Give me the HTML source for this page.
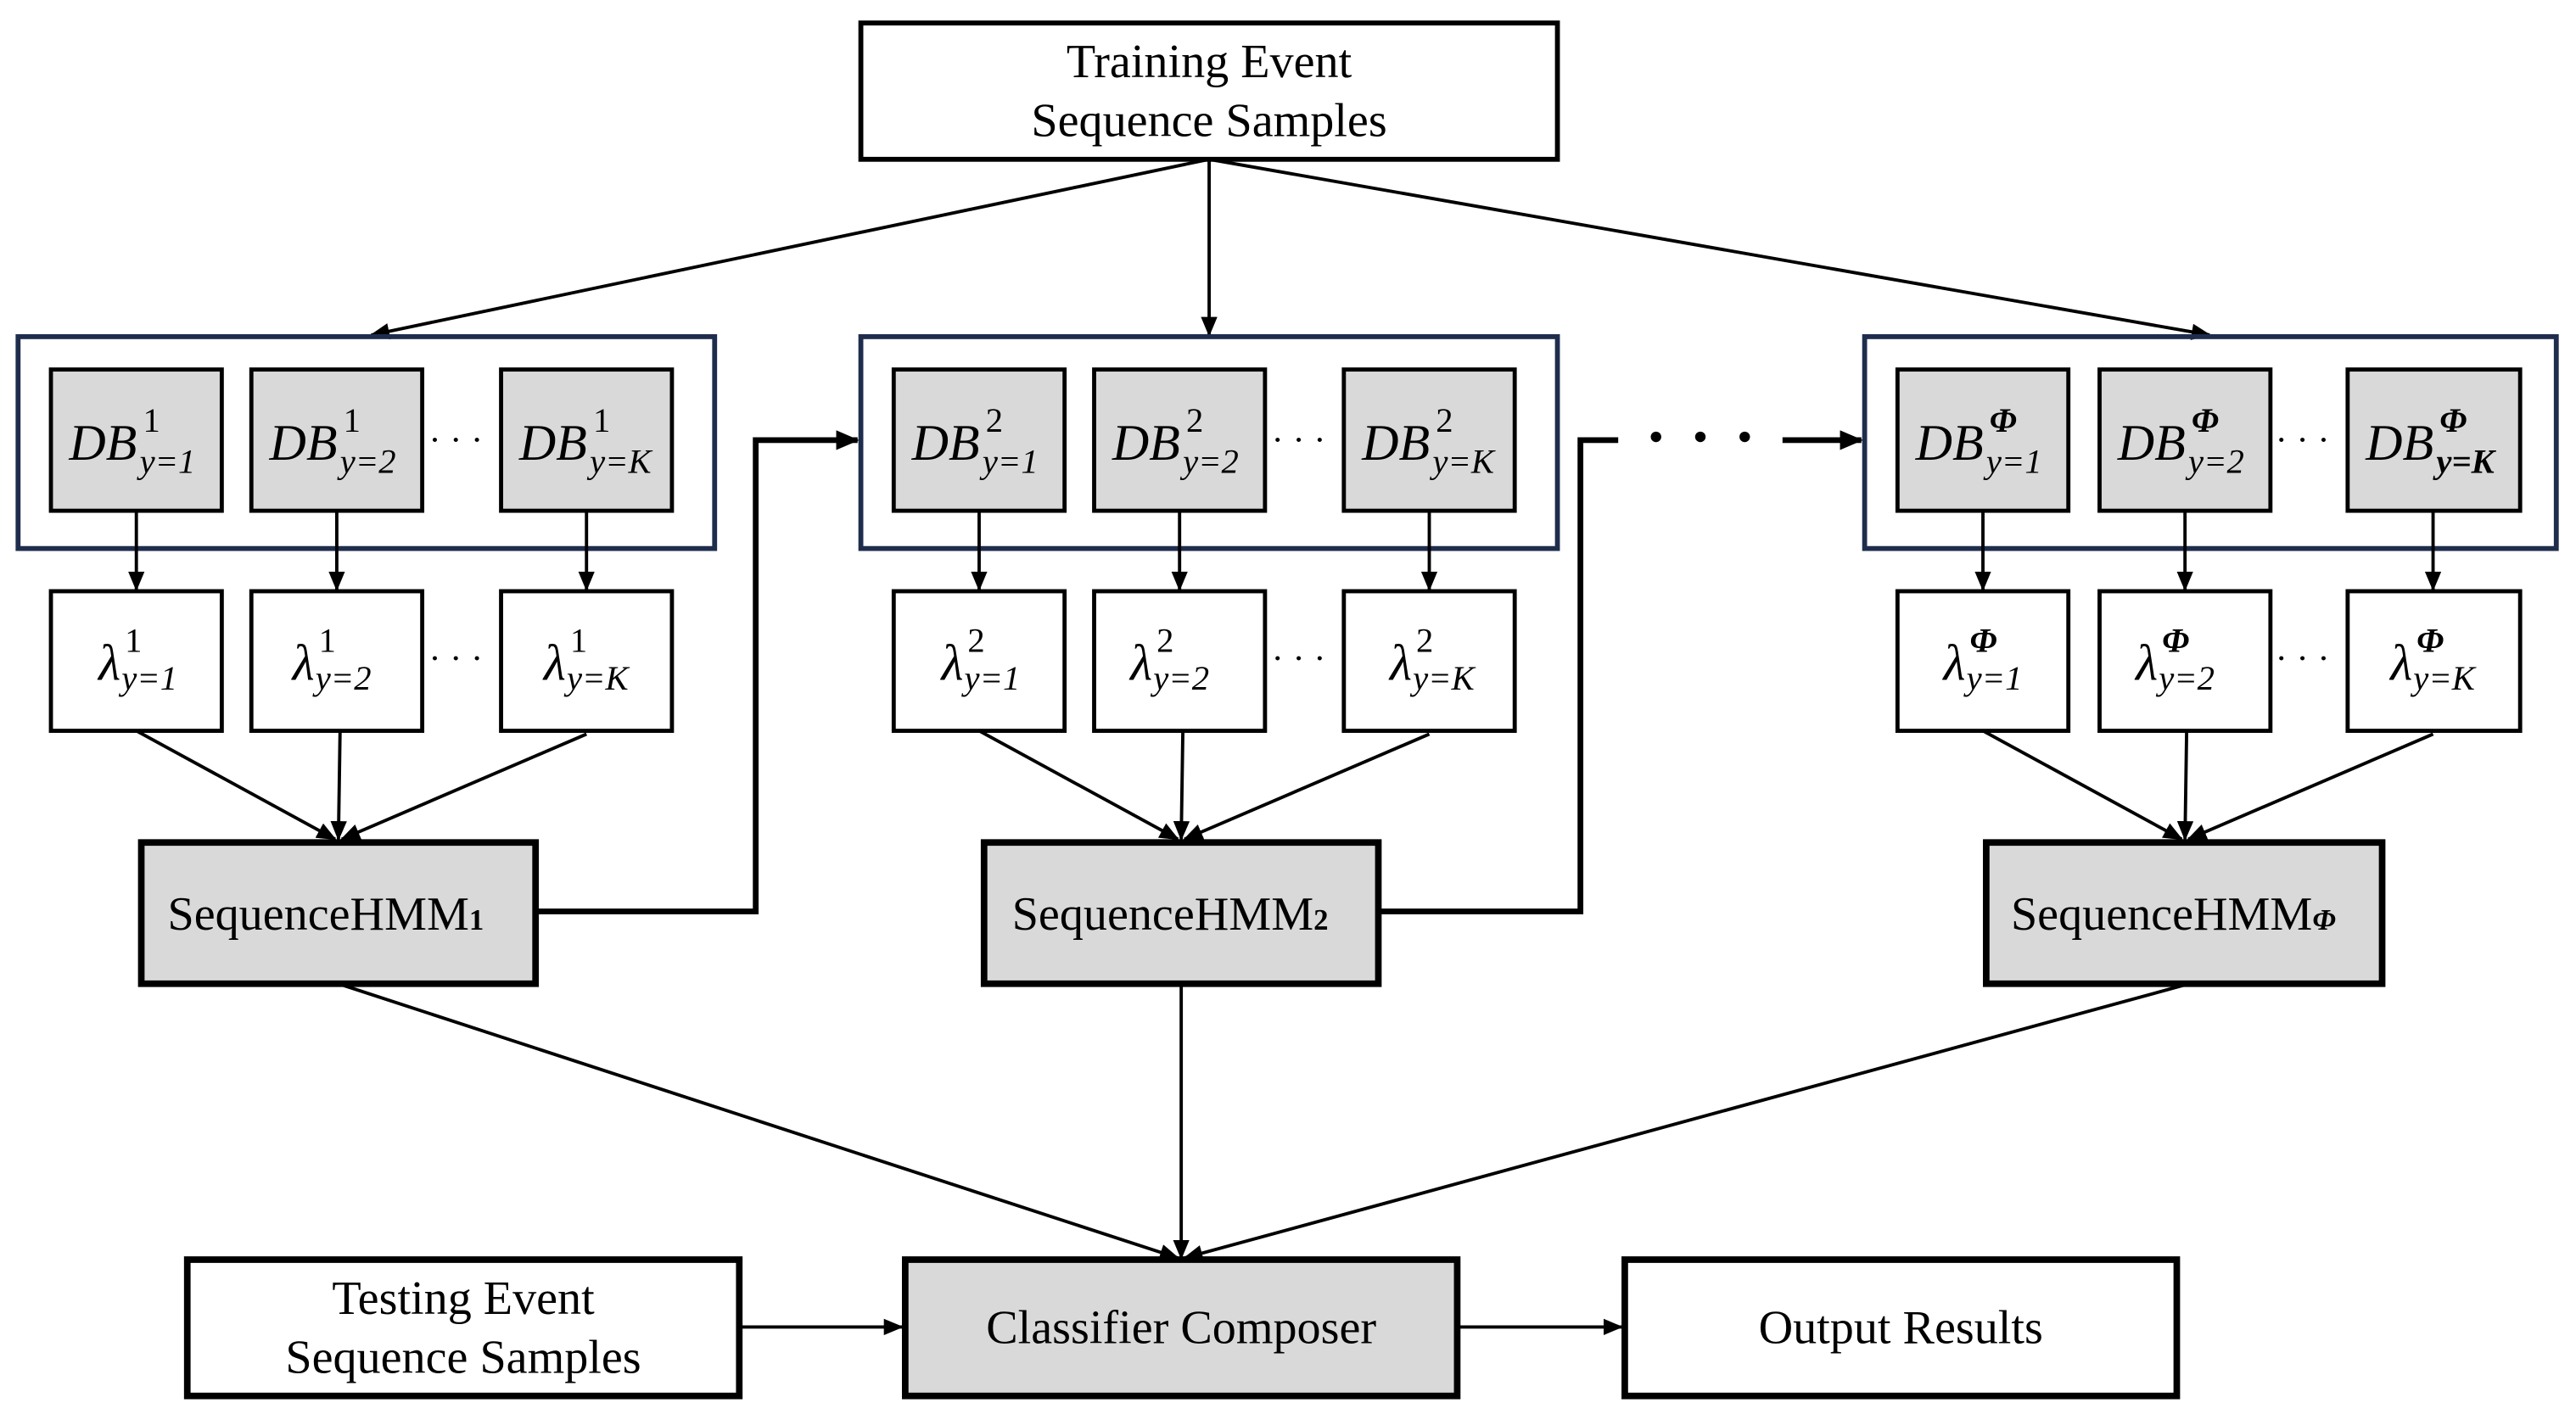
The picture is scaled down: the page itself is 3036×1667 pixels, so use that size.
<!DOCTYPE html>
<html><head><meta charset="utf-8"><style>html,body{margin:0;padding:0;background:#fff}svg{display:block}</style></head>
<body>
<svg width="3036" height="1667" viewBox="0 0 1568 861" preserveAspectRatio="none" xmlns="http://www.w3.org/2000/svg">
<defs>
<marker id="a" markerUnits="userSpaceOnUse" markerWidth="12" markerHeight="10" refX="11" refY="5" orient="auto"><path d="M0,0 L12,5 L0,10 z" fill="#000"/></marker>
<marker id="b" markerUnits="userSpaceOnUse" markerWidth="14" markerHeight="12" refX="13" refY="6" orient="auto"><path d="M0,0 L14,6 L0,12 z" fill="#000"/></marker>
</defs>
<g font-family="Liberation Serif, serif" fill="#000">
<rect x="524" y="14" width="424" height="83" fill="#fff" stroke="#000" stroke-width="3"/>
<text x="736" y="47" font-size="29" text-anchor="middle">Training Event</text>
<text x="736" y="83" font-size="29" text-anchor="middle">Sequence Samples</text>
<g stroke="#000" stroke-width="2" fill="none">
<line x1="736" y1="97" x2="226" y2="204" marker-end="url(#a)"/>
<line x1="736" y1="97" x2="736" y2="204" marker-end="url(#a)"/>
<line x1="736" y1="97" x2="1345" y2="204" marker-end="url(#a)"/>
</g>
<g fill="none" stroke="#1f2d4d" stroke-width="3">
<rect x="11" y="205" width="424" height="129"/>
<rect x="524" y="205" width="424" height="129"/>
<rect x="1135" y="205" width="421" height="129"/>
</g>
<g stroke="#000" stroke-width="2.5" fill="#d9d9d9">
<rect x="31" y="225" width="104" height="86"/><rect x="153" y="225" width="104" height="86"/><rect x="305" y="225" width="104" height="86"/>
<rect x="544" y="225" width="104" height="86"/><rect x="666" y="225" width="104" height="86"/><rect x="818" y="225" width="104" height="86"/>
<rect x="1155" y="225" width="104" height="86"/><rect x="1278" y="225" width="104" height="86"/><rect x="1429" y="225" width="105" height="86"/>
</g>
<g stroke="#000" stroke-width="2.5" fill="#fff">
<rect x="31" y="360" width="104" height="85"/><rect x="153" y="360" width="104" height="85"/><rect x="305" y="360" width="104" height="85"/>
<rect x="544" y="360" width="104" height="85"/><rect x="666" y="360" width="104" height="85"/><rect x="818" y="360" width="104" height="85"/>
<rect x="1155" y="360" width="104" height="85"/><rect x="1278" y="360" width="104" height="85"/><rect x="1429" y="360" width="105" height="85"/>
</g>
<g font-style="italic">
<text x="42" y="280" font-size="31">DB<tspan x="87" y="263" font-size="21" font-style="normal">1</tspan><tspan x="85" y="288" font-size="21">y=1</tspan></text>
<text x="164" y="280" font-size="31">DB<tspan x="209" y="263" font-size="21" font-style="normal">1</tspan><tspan x="207" y="288" font-size="21">y=2</tspan></text>
<text x="316" y="280" font-size="31">DB<tspan x="361" y="263" font-size="21" font-style="normal">1</tspan><tspan x="359" y="288" font-size="21">y=K</tspan></text>
<text x="555" y="280" font-size="31">DB<tspan x="600" y="263" font-size="21" font-style="normal">2</tspan><tspan x="598" y="288" font-size="21">y=1</tspan></text>
<text x="677" y="280" font-size="31">DB<tspan x="722" y="263" font-size="21" font-style="normal">2</tspan><tspan x="720" y="288" font-size="21">y=2</tspan></text>
<text x="829" y="280" font-size="31">DB<tspan x="874" y="263" font-size="21" font-style="normal">2</tspan><tspan x="872" y="288" font-size="21">y=K</tspan></text>
<text x="1166" y="280" font-size="31">DB<tspan x="1211" y="263" font-size="21" font-weight="bold">Φ</tspan><tspan x="1209" y="288" font-size="21">y=1</tspan></text>
<text x="1289" y="280" font-size="31">DB<tspan x="1334" y="263" font-size="21" font-weight="bold">Φ</tspan><tspan x="1332" y="288" font-size="21">y=2</tspan></text>
<text x="1440" y="280" font-size="31">DB<tspan x="1485" y="263" font-size="21" font-weight="bold">Φ</tspan><tspan x="1483" y="288" font-size="21" font-weight="bold">y=K</tspan></text>
<text x="60" y="414" font-size="31">λ<tspan x="76" y="397" font-size="21" font-style="normal">1</tspan><tspan x="74" y="420" font-size="21">y=1</tspan></text>
<text x="178" y="414" font-size="31">λ<tspan x="194" y="397" font-size="21" font-style="normal">1</tspan><tspan x="192" y="420" font-size="21">y=2</tspan></text>
<text x="331" y="414" font-size="31">λ<tspan x="347" y="397" font-size="21" font-style="normal">1</tspan><tspan x="345" y="420" font-size="21">y=K</tspan></text>
<text x="573" y="414" font-size="31">λ<tspan x="589" y="397" font-size="21" font-style="normal">2</tspan><tspan x="587" y="420" font-size="21">y=1</tspan></text>
<text x="688" y="414" font-size="31">λ<tspan x="704" y="397" font-size="21" font-style="normal">2</tspan><tspan x="702" y="420" font-size="21">y=2</tspan></text>
<text x="846" y="414" font-size="31">λ<tspan x="862" y="397" font-size="21" font-style="normal">2</tspan><tspan x="860" y="420" font-size="21">y=K</tspan></text>
<text x="1183" y="414" font-size="31">λ<tspan x="1199" y="397" font-size="21" font-weight="bold">Φ</tspan><tspan x="1197" y="420" font-size="21">y=1</tspan></text>
<text x="1300" y="414" font-size="31">λ<tspan x="1316" y="397" font-size="21" font-weight="bold">Φ</tspan><tspan x="1314" y="420" font-size="21">y=2</tspan></text>
<text x="1455" y="414" font-size="31">λ<tspan x="1471" y="397" font-size="21" font-weight="bold">Φ</tspan><tspan x="1469" y="420" font-size="21">y=K</tspan></text>
</g>
<g font-size="22">
<text x="261" y="275">· · ·</text><text x="261" y="408">· · ·</text>
<text x="774" y="275">· · ·</text><text x="774" y="408">· · ·</text>
<text x="1385" y="275">· · ·</text><text x="1385" y="408">· · ·</text>
</g>
<g stroke="#000" stroke-width="2" fill="none">
<line x1="83" y1="311" x2="83" y2="359" marker-end="url(#a)"/>
<line x1="205" y1="311" x2="205" y2="359" marker-end="url(#a)"/>
<line x1="357" y1="311" x2="357" y2="359" marker-end="url(#a)"/>
<line x1="596" y1="311" x2="596" y2="359" marker-end="url(#a)"/>
<line x1="718" y1="311" x2="718" y2="359" marker-end="url(#a)"/>
<line x1="870" y1="311" x2="870" y2="359" marker-end="url(#a)"/>
<line x1="1207" y1="311" x2="1207" y2="359" marker-end="url(#a)"/>
<line x1="1330" y1="311" x2="1330" y2="359" marker-end="url(#a)"/>
<line x1="1481" y1="311" x2="1481" y2="359" marker-end="url(#a)"/>
<line x1="83" y1="445" x2="204" y2="511" marker-end="url(#a)"/>
<line x1="207" y1="445" x2="206" y2="511" marker-end="url(#a)"/>
<line x1="357" y1="447" x2="208" y2="511" marker-end="url(#a)"/>
<line x1="596" y1="445" x2="717" y2="511" marker-end="url(#a)"/>
<line x1="720" y1="445" x2="719" y2="511" marker-end="url(#a)"/>
<line x1="870" y1="447" x2="721" y2="511" marker-end="url(#a)"/>
<line x1="1207" y1="445" x2="1328" y2="511" marker-end="url(#a)"/>
<line x1="1331" y1="445" x2="1330" y2="511" marker-end="url(#a)"/>
<line x1="1481" y1="447" x2="1332" y2="511" marker-end="url(#a)"/>
<line x1="206" y1="599" x2="717" y2="766" marker-end="url(#a)"/>
<line x1="719" y1="599" x2="719" y2="766" marker-end="url(#a)"/>
<line x1="1329" y1="600" x2="721" y2="766" marker-end="url(#a)"/>
<line x1="450" y1="808" x2="549" y2="808" marker-end="url(#a)"/>
<line x1="887" y1="808" x2="987" y2="808" marker-end="url(#a)"/>
</g>
<g stroke="#000" stroke-width="3.5" fill="none">
<polyline points="326,555 460,555 460,268 522,268" marker-end="url(#b)"/>
<polyline points="839,555 962,555 962,268 985,268"/>
<line x1="1085" y1="268" x2="1133" y2="268" marker-end="url(#b)"/>
</g>
<circle cx="1008" cy="266" r="3.2"/><circle cx="1035" cy="266" r="3.2"/><circle cx="1062" cy="266" r="3.2"/>
<g stroke="#000" stroke-width="4" fill="#d9d9d9">
<rect x="86" y="513" width="240" height="86"/>
<rect x="599" y="513" width="240" height="86"/>
<rect x="1209" y="513" width="241" height="86"/>
<rect x="551" y="767" width="336" height="83"/>
</g>
<g stroke="#000" stroke-width="4" fill="#fff">
<rect x="114" y="767" width="336" height="83"/>
<rect x="989" y="767" width="336" height="83"/>
</g>
<g font-size="29">
<text x="102" y="566">SequenceHMM<tspan font-size="18" font-weight="bold">1</tspan></text>
<text x="616" y="566">SequenceHMM<tspan font-size="18" font-weight="bold">2</tspan></text>
<text x="1224" y="566">SequenceHMM<tspan font-size="18" font-weight="bold" font-style="italic">Φ</tspan></text>
<text x="719" y="818" text-anchor="middle">Classifier Composer</text>
<text x="282" y="800" text-anchor="middle">Testing Event</text>
<text x="282" y="836" text-anchor="middle">Sequence Samples</text>
<text x="1157" y="818" text-anchor="middle">Output Results</text>
</g>
</g>
</svg>
</body></html>
